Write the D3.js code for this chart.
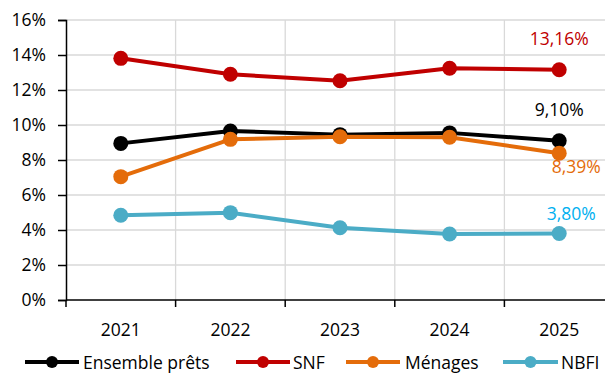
<!DOCTYPE html>
<html>
<head>
<meta charset="utf-8">
<script src="https://cdn.jsdelivr.net/npm/d3@7"></script>
<style>
  html, body { margin: 0; padding: 0; background: #fff; }
  svg { display: block; font-family: "Open Sans", Lato, sans-serif; }
</style>
</head>
<body>
<svg id="chart" width="605" height="374"></svg>
<script>
// Categories and series (growth rates, %)
const years = ["2021", "2022", "2023", "2024", "2025"];
const ensemble = [8.95, 9.66, 9.45, 9.55, 9.10];
const snf = [13.81, 12.90, 12.53, 13.24, 13.16];
const menages = [7.05, 9.18, 9.33, 9.30, 8.39];
const nbfi = [4.84, 4.99, 4.13, 3.77, 3.80];
const yTicks = [0, 2, 4, 6, 8, 10, 12, 14, 16];

const seriesNames = ["Ensemble prêts", "SNF", "Ménages", "NBFI"];
const seriesValues = [ensemble, snf, menages, nbfi];
const lineColors = ["#000000", "#C00000", "#E46C0A", "#4BACC6"];
const labelColors = ["#000000", "#C00000", "#E46C0A", "#00B0F0"];
const labelOffsets = [[0, -25], [0, -25], [17, 20], [12, -14]];

const svg = d3.select("#chart");
const plotLeft = 66, plotRight = 614, plotTop = 20, plotBottom = 300;
const fontSize = 17.5;

const x = d3.scaleBand().domain(years).range([plotLeft, plotRight]);
const y = d3.scaleLinear().domain([0, 16]).range([plotBottom, plotTop]);
const fmt = v => v.toFixed(2).replace(".", ",") + "%";
const cx = (i) => x(years[i]) + x.bandwidth() / 2;

// Gridlines
svg.append("g").selectAll("line").data(yTicks.slice(1)).join("line")
  .attr("x1", plotLeft).attr("x2", plotRight)
  .attr("y1", d => y(d)).attr("y2", d => y(d))
  .attr("stroke", "#D9D9D9").attr("stroke-width", 1.3);
svg.append("g").selectAll("line").data(years.slice(1)).join("line")
  .attr("x1", d => x(d)).attr("x2", d => x(d))
  .attr("y1", plotTop).attr("y2", plotBottom)
  .attr("stroke", "#D9D9D9").attr("stroke-width", 1.3);

// Y axis
const yAxis = svg.append("g").attr("transform", `translate(${plotLeft},0)`)
  .call(d3.axisLeft(y).tickValues(yTicks).tickFormat(d => d + "%").tickSize(8).tickPadding(12));
yAxis.select(".domain").attr("stroke", "#000").attr("stroke-width", 1.5);
yAxis.selectAll(".tick line").attr("stroke", "#000").attr("stroke-width", 1.5);
yAxis.selectAll("text").attr("font-size", fontSize).attr("fill", "#000")
  .attr("font-family", "'Open Sans', sans-serif");

// X axis: ticks at category boundaries, labels centred in bands
const xAxisG = svg.append("g");
xAxisG.append("line").attr("x1", plotLeft).attr("x2", plotRight)
  .attr("y1", plotBottom).attr("y2", plotBottom).attr("stroke", "#000").attr("stroke-width", 1.5);
xAxisG.selectAll("line.t").data(years).join("line").attr("class", "t")
  .attr("x1", d => x(d)).attr("x2", d => x(d))
  .attr("y1", plotBottom).attr("y2", plotBottom + 7)
  .attr("stroke", "#000").attr("stroke-width", 1.5);
xAxisG.selectAll("text").data(years).join("text")
  .attr("x", d => x(d) + x.bandwidth() / 2).attr("y", 336)
  .attr("text-anchor", "middle").attr("font-size", fontSize).attr("fill", "#000")
  .text(d => d);

// Lines and markers
const line = d3.line().x((d, i) => cx(i)).y(d => y(d));
seriesValues.forEach((vals, s) => {
  const g = svg.append("g");
  g.append("path").datum(vals).attr("d", line)
    .attr("fill", "none").attr("stroke", lineColors[s]).attr("stroke-width", 4)
    .attr("stroke-linejoin", "round");
  g.selectAll("circle").data(vals).join("circle")
    .attr("cx", (d, i) => cx(i))
    .attr("cy", d => y(d)).attr("r", 7.5).attr("fill", lineColors[s]);
});

// Value labels for the last year
seriesValues.forEach((vals, s) => {
  const last = vals.length - 1;
  svg.append("text")
    .attr("x", cx(last) + labelOffsets[s][0])
    .attr("y", y(vals[last]) + labelOffsets[s][1])
    .attr("text-anchor", "middle").attr("font-size", fontSize)
    .attr("fill", labelColors[s]).text(fmt(vals[last]));
});

// Legend
const legendItems = [
  { x1: 25, x2: 79, tx: 83 },
  { x1: 236, x2: 290, tx: 293 },
  { x1: 346, x2: 400, tx: 405 },
  { x1: 503, x2: 558, tx: 561 }
];
const legend = svg.append("g");
legendItems.forEach((it, s) => {
  const ly = 362;
  legend.append("line").attr("x1", it.x1).attr("x2", it.x2)
    .attr("y1", ly).attr("y2", ly).attr("stroke", lineColors[s]).attr("stroke-width", 4);
  legend.append("circle").attr("cx", (it.x1 + it.x2) / 2).attr("cy", ly)
    .attr("r", 6).attr("fill", lineColors[s]);
  legend.append("text").attr("x", it.tx).attr("y", ly + 6.5)
    .attr("font-size", fontSize).attr("fill", "#000").text(seriesNames[s]);
});
</script>
</body>
</html>
